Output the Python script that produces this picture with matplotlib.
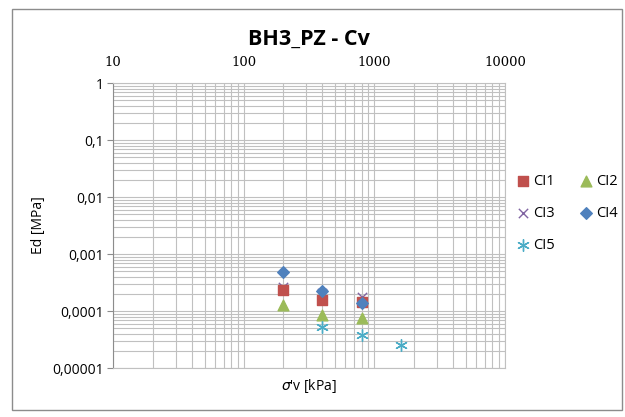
import matplotlib
matplotlib.use('Agg')
import matplotlib.pyplot as plt
from matplotlib.patches import Rectangle
from matplotlib.ticker import FixedLocator, LogLocator, NullFormatter

# vertical effective stress [kPa] and Ed [MPa] for each load step
sv_ci1 = [200, 400, 800]
ed_ci1 = [2.35e-4, 1.57e-4, 1.46e-4]
sv_ci2 = [200, 400, 800]
ed_ci2 = [1.28e-4, 8.5e-5, 7.5e-5]
sv_ci3 = [200, 400, 800]
ed_ci3 = [2.6e-4, 2.1e-4, 1.79e-4]
sv_ci4 = [200, 400, 800]
ed_ci4 = [4.9e-4, 2.28e-4, 1.37e-4]
sv_ci5 = [400, 800, 1600]
ed_ci5 = [5.2e-5, 3.8e-5, 2.5e-5]

x_ticks = [10, 100, 1000, 10000]
y_ticks = [1, 0.1, 0.01, 0.001, 0.0001, 0.00001]
y_labels = ['1', '0,1', '0,01', '0,001', '0,0001', '0,00001']

plt.rcParams['font.family'] = ['Open Sans', 'DejaVu Sans']

fig = plt.figure(figsize=(6.25, 4.17), dpi=100)
fig.patches.append(Rectangle((12/625, 1-410/417), 610/625, 401/417,
                             transform=fig.transFigure, fill=False,
                             edgecolor='#8c8c8c', linewidth=1))

ax = fig.add_axes([0.1813, 0.1175, 0.6267, 0.6827])
ax.set_xscale('log')
ax.set_yscale('log')
ax.set_xlim(10, 10000)
ax.set_ylim(0.00001, 1)

ax.scatter(sv_ci3, ed_ci3, marker='x', s=45, color='#8064A2', linewidths=1, label='CI3', zorder=3)
ax.scatter(sv_ci1, ed_ci1, marker='s', s=60, color='#C0504D', label='CI1', zorder=4)
ax.scatter(sv_ci2, ed_ci2, marker='^', s=60, color='#9BBB59', label='CI2', zorder=4)
ax.scatter(sv_ci4, ed_ci4, marker='D', s=35, color='#4F81BD', label='CI4', zorder=5)
ax.scatter(sv_ci5, ed_ci5, marker=(6, 2, 0), s=70, color='#4BACC6', linewidths=1, label='CI5', zorder=4)

ax.xaxis.tick_top()
ax.xaxis.set_major_locator(FixedLocator(x_ticks))
ax.xaxis.set_minor_locator(LogLocator(base=10, subs=range(2, 10)))
ax.xaxis.set_minor_formatter(NullFormatter())
ax.set_xticklabels([str(v) for v in x_ticks], family='DejaVu Serif', fontsize=9.5)
ax.tick_params(axis='x', which='both', length=0, pad=10)

ax.yaxis.set_major_locator(FixedLocator(y_ticks))
ax.yaxis.set_minor_locator(LogLocator(base=10, subs=range(2, 10)))
ax.yaxis.set_minor_formatter(NullFormatter())
ax.set_yticklabels(y_labels, fontsize=10)
ax.tick_params(axis='y', which='major', length=4, color='#8c8c8c', pad=3)
ax.tick_params(axis='y', which='minor', length=0)

ax.grid(True, which='both', color='#c0c0c0', linewidth=0.8)
for s in ax.spines.values():
    s.set_color('#c0c0c0')
ax.spines['left'].set_color('#8c8c8c')

fig.text(0.495, 0.905, 'BH3_PZ - Cv', ha='center', va='center', fontsize=15.5, fontweight='bold')
fig.text(0.495, 1-386/417, "$\\sigma$'v [kPa]", ha='center', va='center', fontsize=10)
fig.text(0.062, 0.46, 'Ed [MPa]', ha='center', va='center', rotation=90, fontsize=10)

handles, labels = ax.get_legend_handles_labels()
order = ['CI1', 'CI2', 'CI3', 'CI4', 'CI5']
h = [handles[labels.index(k)] for k in order]
# column-major order for a 2-column legend: CI1, CI3, CI5 | CI2, CI4
h = [h[0], h[2], h[4], h[1], h[3]]
lab = ['CI1', 'CI3', 'CI5', 'CI2', 'CI4']
fig.legend(h, lab, loc='upper left', bbox_to_anchor=(0.802, 0.614), ncol=2, frameon=False,
           fontsize=10.5, handletextpad=0.1, columnspacing=1.5, labelspacing=1.15,
           handlelength=1.2)

plt.savefig('out.png', dpi=100)
